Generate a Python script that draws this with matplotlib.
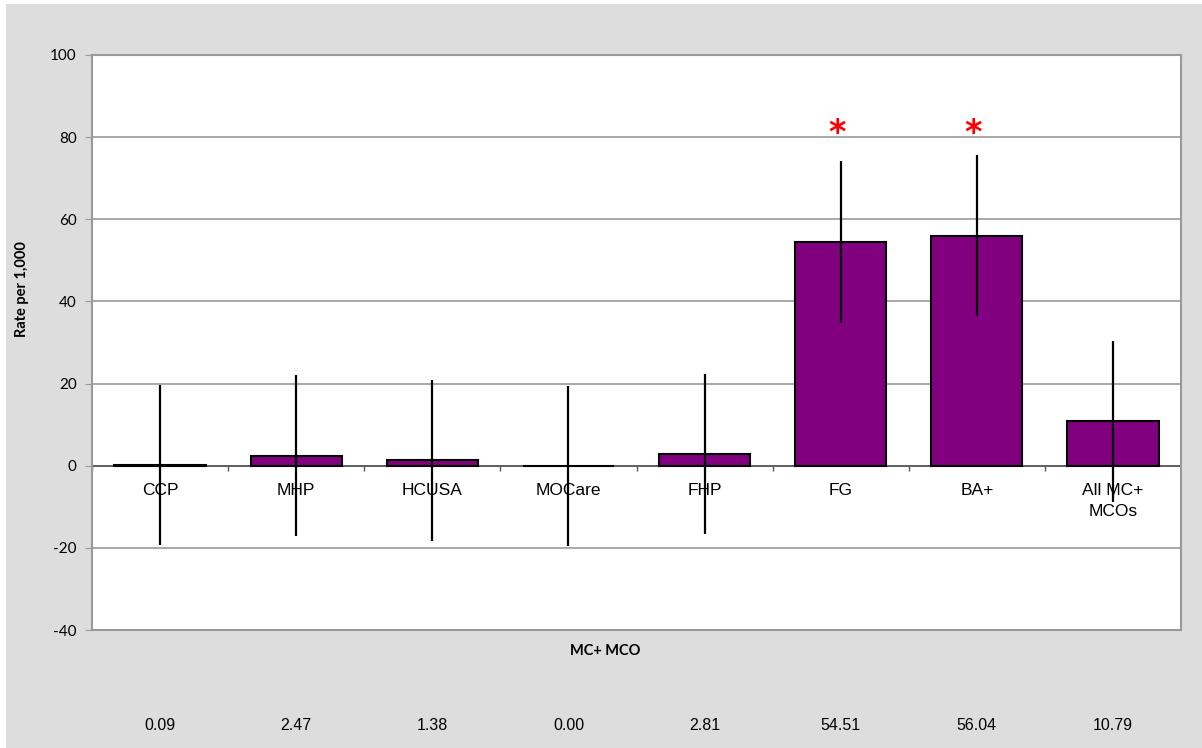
import numpy as np
import matplotlib.pyplot as plt
from matplotlib.patches import Rectangle

# plan rates per 1,000 with 95% interval half-widths
plans = ["CCP", "MHP", "HCUSA", "MOCare", "FHP", "FG", "BA+", "All MC+\nMCOs"]
rates = [0.09, 2.47, 1.38, 0.00, 2.81, 54.51, 56.04, 10.79]
ci_half = [19.5, 19.5, 19.6, 19.5, 19.5, 19.7, 19.7, 19.6]
significant = [False, False, False, False, False, True, True, False]
table_labels = ["0.09", "2.47", "1.38", "0.00", "2.81", "54.51", "56.04", "10.79"]
yticks = [-40, -20, 0, 20, 40, 60, 80, 100]

fig = plt.figure(figsize=(12.02, 7.48), dpi=100)
fig.patch.set_facecolor("white")
# grey chart area, kept behind the axes
bg = Rectangle((6 / 1202, 0), 1, (748 - 4) / 748, transform=fig.transFigure,
               facecolor="#dddddd", edgecolor="none", zorder=-10)
fig.add_artist(bg)

ax = fig.add_axes([92 / 1202, (748 - 630) / 748, (1181 - 92) / 1202, (630 - 55) / 748])
ax.set_zorder(1)
ax.set_facecolor("white")

x = np.arange(len(plans))
ax.bar(x, rates, width=0.67, color="#800080", edgecolor="black", linewidth=1.5, zorder=3)
ax.errorbar(x, rates, yerr=ci_half, fmt="none", ecolor="black", elinewidth=1.6,
            capsize=0, zorder=4)

ax.set_xlim(-0.5, len(plans) - 0.5)
ax.set_ylim(-40, 100)
ax.set_yticks(yticks)
ax.set_yticklabels([str(v) for v in yticks], fontfamily="Lato", fontsize=11)
ax.tick_params(axis="y", direction="out", length=5, color="#999999", pad=6)
ax.set_xticks([])
ax.yaxis.grid(True, color="#999999", linewidth=1.2, zorder=0)
ax.set_axisbelow(True)
for s in ax.spines.values():
    s.set_color("#999999")
    s.set_linewidth(1.5)

# zero baseline with category separators
ax.axhline(0, color="#555555", linewidth=1.2, zorder=2)
ax.vlines(np.arange(len(plans) + 1) - 0.5, -1.2, 0, color="#555555", linewidth=1, zorder=2)

for i, name in enumerate(plans):
    ax.text(i, -4.3, name, ha="center", va="top", fontsize=12.5,
            fontfamily="Liberation Sans", linespacing=1.45, zorder=5)
    if significant[i]:
        ax.text(i - 0.03, 81, "*", ha="center", va="center", color="red",
                fontsize=24, fontweight="bold", zorder=5)

ax.set_ylabel("Rate per 1,000", fontfamily="Lato", fontweight="bold", fontsize=10.5)
ax.yaxis.set_label_coords(-0.058, 0.593)

fig.text(0.5035, (748 - 651) / 748, "MC+ MCO", ha="center", va="center",
         fontfamily="Lato", fontweight="bold", fontsize=10.5)

# value row under the chart
for i, lab in enumerate(table_labels):
    xf = ax.transAxes.transform(((i + 0.5) / len(plans), 0))[0]
    xf = fig.transFigure.inverted().transform((xf, 0))[0]
    fig.text(xf, (748 - 725) / 748, lab, ha="center", va="center",
             fontfamily="Liberation Sans", fontsize=11.5)

fig.savefig("out.png", dpi=100, facecolor=fig.get_facecolor())
